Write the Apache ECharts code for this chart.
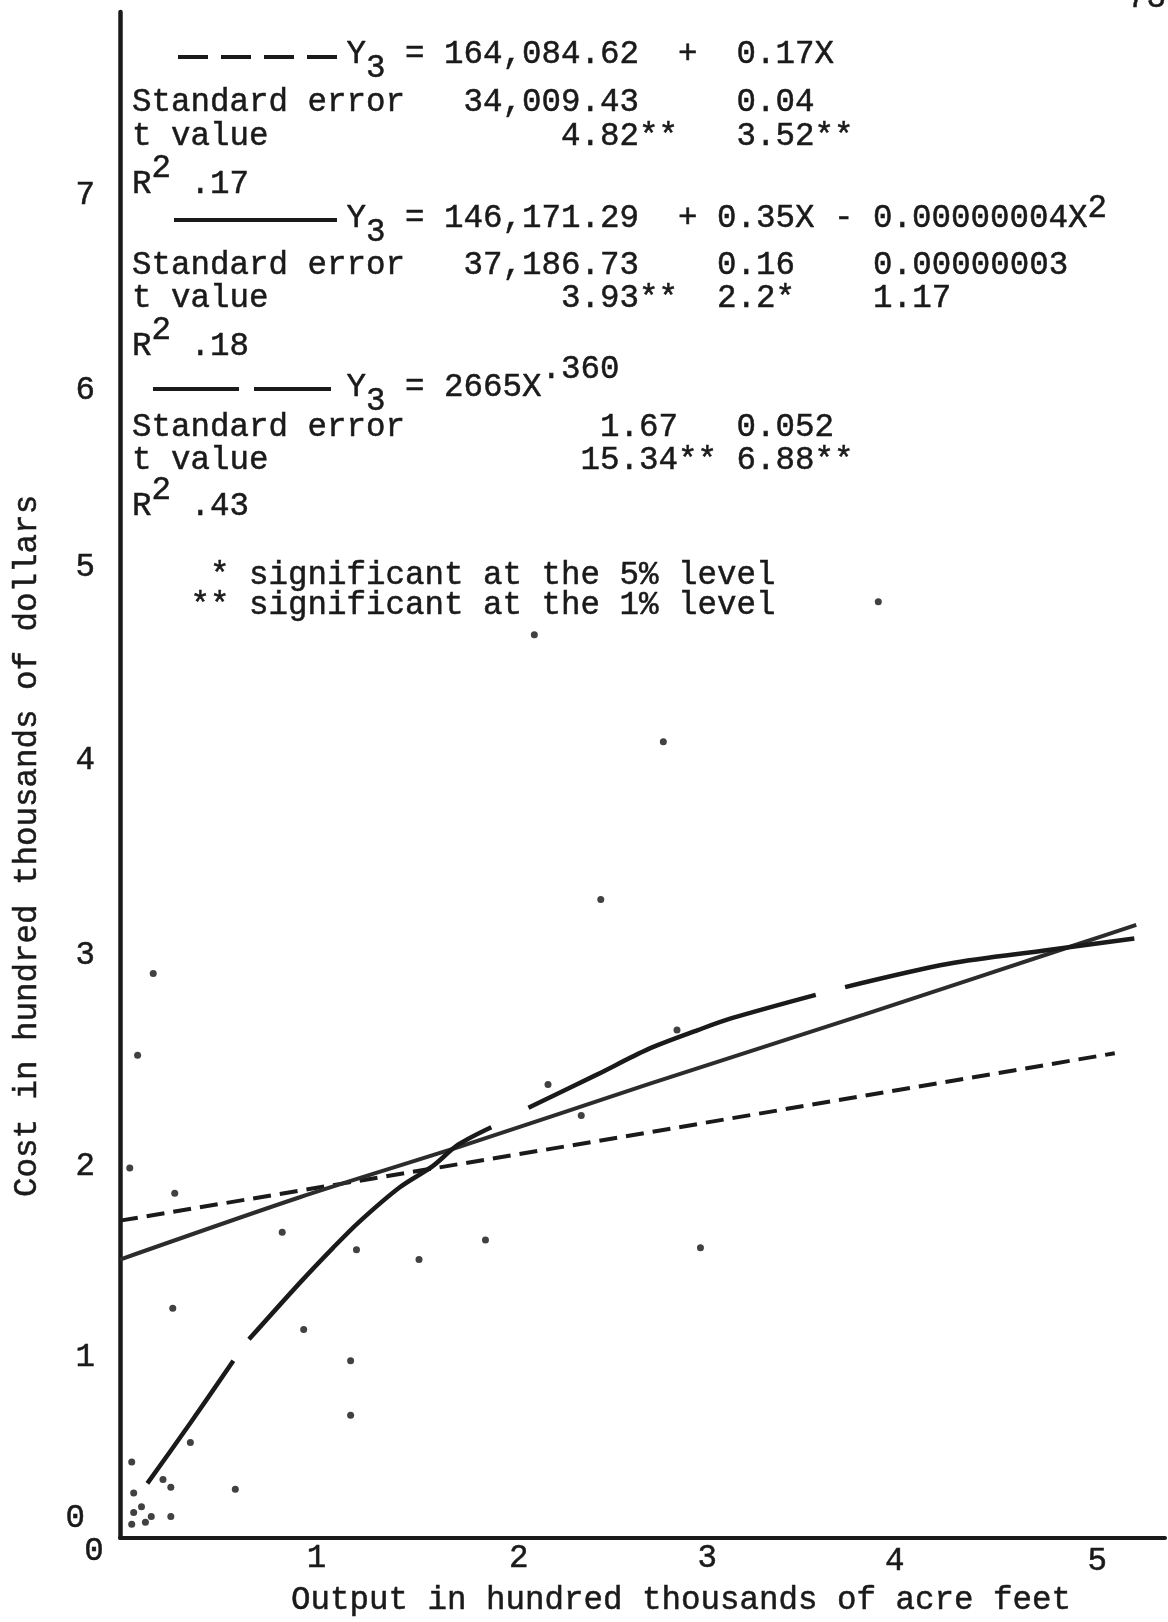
<!DOCTYPE html>
<html>
<head>
<meta charset="utf-8">
<title>Cost and output</title>
<script src="https://cdn.jsdelivr.net/npm/echarts@6.0.0/dist/echarts.min.js"></script>
<style>
html, body { margin: 0; padding: 0; background: #ffffff; }
#chart { width: 1168px; height: 1622px; }
</style>
</head>
<body>
<div id="chart"></div>
<script>
// ---------------- data ----------------
// x: output in hundred thousands of acre feet, y: cost in hundred thousands of dollars
const xTicks = [0, 1, 2, 3, 4, 5];
const yTicks = [0, 1, 2, 3, 4, 5, 6, 7];

const observations = [
  [2.12, 4.64], [3.88, 4.81], [2.78, 4.09], [2.46, 3.28], [0.17, 2.90], [0.09, 2.48],
  [2.85, 2.61], [2.19, 2.33], [2.36, 2.17], [0.05, 1.90], [0.28, 1.77], [0.83, 1.57],
  [1.21, 1.48], [1.53, 1.43], [1.87, 1.53], [2.97, 1.49], [0.27, 1.18], [0.94, 1.07],
  [1.18, 0.91], [1.18, 0.63], [0.36, 0.49], [0.06, 0.39], [0.59, 0.25], [0.07, 0.23],
  [0.22, 0.30], [0.26, 0.26], [0.07, 0.13], [0.11, 0.16], [0.06, 0.07], [0.13, 0.08],
  [0.16, 0.11], [0.26, 0.11]
];

// linear fit (dashed)
const linearFit = [[0, 1.63], [2.45, 2.04], [5.09, 2.49]];
// quadratic fit (solid)
const quadraticFit = [[0, 1.43], [0.92, 1.75], [1.77, 2.02], [2.70, 2.33], [3.81, 2.69], [4.90, 3.05], [5.20, 3.15]];
// power fit, drawn as long broken strokes
const powerFitA = [[0.14, 0.28], [0.36, 0.59], [0.58, 0.91]];
const powerFitB = [[0.66, 1.02], [0.92, 1.31], [1.09, 1.49], [1.22, 1.62], [1.43, 1.80], [1.60, 1.91], [1.73, 2.02], [1.90, 2.11]];
const powerFitC = [[2.09, 2.21], [2.44, 2.38], [2.70, 2.51], [2.96, 2.61], [3.13, 2.67], [3.56, 2.79]];
const powerFitD = [[3.71, 2.83], [4.24, 2.95], [4.75, 3.02], [5.19, 3.08]];

// ---------------- styling / layout ----------------
const INK = '#1a1a1a';
const FONT_FAMILY = '"Liberation Mono", "DejaVu Sans Mono", monospace';
const FONT_SIZE = 32.5;
const FONT = FONT_SIZE + 'px ' + FONT_FAMILY;
const PITCH = 19.5;          // typewriter character pitch
const COL0 = 132;            // left margin of the note block
const col = c => COL0 + c * PITCH;

// build a typed line: [[column, text], ...] padded with spaces
function typed(parts) {
  let s = '';
  for (const [c, t] of parts) s = s.padEnd(c, ' ') + t;
  return s;
}

// hand-typed tick labels sit a little off their ticks: [dx, dy]
const yLabelNudge = { 0: [-10, -19], 1: [0, 14], 2: [0, 18], 3: [0, 1], 4: [0, 1], 5: [0, 3], 6: [0, 20], 7: [0, 20] };
const xLabelNudge = { 0: [-26, -7], 1: [1, 0], 2: [8, 0], 3: [1, 0], 4: [-7, 3], 5: [0, 3] };

function richFor(nudges, rightAligned) {
  const rich = {};
  Object.keys(nudges).forEach(k => {
    const [dx, dy] = nudges[k];
    let pl = 0, pr = 0;
    if (rightAligned) { pr = Math.max(0, -dx); }
    else { pl = Math.max(0, 2 * dx); pr = Math.max(0, -2 * dx); }
    const pt = Math.max(0, 2 * dy), pb = Math.max(0, -2 * dy);
    rich['t' + k] = {
      fontFamily: FONT_FAMILY, fontSize: FONT_SIZE, color: INK,
      textBorderColor: INK, textBorderWidth: 0.5,
      padding: [pt, pr, pb, pl]
    };
  });
  return rich;
}

function textEl(x, y, text) {
  return {
    type: 'text', x: x, y: y, silent: true,
    style: { text: text, font: FONT, fill: INK, stroke: INK, lineWidth: 0.5, align: 'left', verticalAlign: 'middle' }
  };
}

// rows of the regression notes
const ROW = { L1: 54, SE1: 102, T1: 136, R1: 184, L2: 218, SE2: 265, T2: 298, R2: 346,
              L3: 387, SE3: 427, T3: 460, R3: 506, N1: 575, N2: 605 };
const SUB = 14, SUP = -16;

const notes = [
  textEl(col(11), ROW.L1, 'Y'), textEl(col(12), ROW.L1 + SUB, '3'),
  textEl(col(14), ROW.L1, typed([[0, '= 164,084.62'], [14, '+'], [17, '0.17X']])),
  textEl(col(0), ROW.SE1, typed([[0, 'Standard error'], [17, '34,009.43'], [31, '0.04']])),
  textEl(col(0), ROW.T1, typed([[0, 't value'], [22, '4.82**'], [31, '3.52**']])),
  textEl(col(0), ROW.R1, 'R'), textEl(col(1), ROW.R1 + SUP, '2'), textEl(col(3), ROW.R1, '.17'),

  textEl(col(11), ROW.L2, 'Y'), textEl(col(12), ROW.L2 + SUB, '3'),
  textEl(col(14), ROW.L2, typed([[0, '= 146,171.29'], [14, '+'], [16, '0.35X'], [22, '-'], [24, '0.00000004X']])),
  textEl(col(49), ROW.L2 - 10, '2'),
  textEl(col(0), ROW.SE2, typed([[0, 'Standard error'], [17, '37,186.73'], [30, '0.16'], [38, '0.00000003']])),
  textEl(col(0), ROW.T2, typed([[0, 't value'], [22, '3.93**'], [30, '2.2*'], [38, '1.17']])),
  textEl(col(0), ROW.R2, 'R'), textEl(col(1), ROW.R2 + SUP, '2'), textEl(col(3), ROW.R2, '.18'),

  textEl(col(11), ROW.L3, 'Y'), textEl(col(12), ROW.L3 + SUB, '3'),
  textEl(col(14), ROW.L3, '= 2665X'), textEl(col(21), ROW.L3 - 18, '.360'),
  textEl(col(0), ROW.SE3, typed([[0, 'Standard error'], [24, '1.67'], [31, '0.052']])),
  textEl(col(0), ROW.T3, typed([[0, 't value'], [23, '15.34**'], [31, '6.88**']])),
  textEl(col(0), ROW.R3, 'R'), textEl(col(1), ROW.R3 + SUP, '2'), textEl(col(3), ROW.R3, '.43'),

  textEl(col(4), ROW.N1, '* significant at the 5% level'),
  textEl(col(3), ROW.N2, '** significant at the 1% level'),

  textEl(1127, -2, '73')
];

// key strokes in front of each equation
const keys = [
  { type: 'line', silent: true, shape: { x1: 178, y1: ROW.L1 + 3, x2: 337, y2: ROW.L1 + 3 },
    style: { stroke: INK, lineWidth: 4, lineDash: [30, 13] } },
  { type: 'line', silent: true, shape: { x1: 174, y1: ROW.L2 + 2, x2: 337, y2: ROW.L2 + 2 },
    style: { stroke: INK, lineWidth: 4 } },
  { type: 'line', silent: true, shape: { x1: 153, y1: ROW.L3 + 2, x2: 331, y2: ROW.L3 + 2 },
    style: { stroke: INK, lineWidth: 4, lineDash: [86, 15] } }
];

const lineBase = { type: 'line', symbol: 'none', silent: true, z: 3 };
const powerStyle = { color: INK, width: 4.5 };

const option = {
  animation: false,
  backgroundColor: '#ffffff',
  textStyle: { fontFamily: FONT_FAMILY },
  grid: { left: 120, right: 0, top: 12, bottom: 73 },
  xAxis: {
    type: 'value', min: 0, max: 5.347, interval: 1,
    axisLine: { show: true, onZero: false, lineStyle: { color: INK, width: 4 } },
    axisTick: { show: false },
    splitLine: { show: false },
    axisLabel: {
      margin: 21, verticalAlign: 'middle',
      fontFamily: FONT_FAMILY, fontSize: FONT_SIZE, color: INK,
      formatter: v => (xTicks.indexOf(v) >= 0 ? '{t' + v + '|' + v + '}' : ''),
      rich: richFor(xLabelNudge, false)
    },
    name: 'Output in hundred thousands of acre feet',
    nameLocation: 'middle', nameGap: 58,
    nameTextStyle: { fontFamily: FONT_FAMILY, fontSize: FONT_SIZE, color: INK, verticalAlign: 'middle',
                     textBorderColor: INK, textBorderWidth: 0.5, padding: [0, 0, 0, 77] }
  },
  yAxis: {
    type: 'value', min: 0, max: 7.84, interval: 1,
    axisLine: { show: true, onZero: false, lineStyle: { color: INK, width: 4.5 } },
    axisTick: { show: false },
    splitLine: { show: false },
    axisLabel: {
      margin: 25, align: 'right', verticalAlign: 'middle',
      fontFamily: FONT_FAMILY, fontSize: FONT_SIZE, color: INK,
      formatter: v => (yTicks.indexOf(v) >= 0 ? '{t' + v + '|' + v + '}' : ''),
      rich: richFor(yLabelNudge, true)
    },
    name: 'Cost in hundred thousands of dollars',
    nameLocation: 'middle', nameGap: 93,
    nameTextStyle: { fontFamily: FONT_FAMILY, fontSize: FONT_SIZE, color: INK, verticalAlign: 'middle',
                     textBorderColor: INK, textBorderWidth: 0.5, padding: [0, 142, 0, 0] }
  },
  series: [
    { type: 'scatter', data: observations, symbol: 'circle', symbolSize: 7,
      itemStyle: { color: '#111111' }, silent: true, z: 4 },
    Object.assign({}, lineBase, { data: linearFit, lineStyle: { color: INK, width: 4, type: [18, 9] } }),
    Object.assign({}, lineBase, { data: quadraticFit, smooth: 0.25, lineStyle: { color: '#2c2c2c', width: 4 } }),
    Object.assign({}, lineBase, { data: powerFitA, smooth: 0.3, lineStyle: powerStyle }),
    Object.assign({}, lineBase, { data: powerFitB, smooth: 0.3, lineStyle: powerStyle }),
    Object.assign({}, lineBase, { data: powerFitC, smooth: 0.3, lineStyle: powerStyle }),
    Object.assign({}, lineBase, { data: powerFitD, smooth: 0.3, lineStyle: powerStyle })
  ],
  graphic: { elements: keys.concat(notes) }
};

const chart = echarts.init(document.getElementById('chart'), null, { renderer: 'canvas', width: 1168, height: 1622 });
chart.setOption(option);
</script>
</body>
</html>
